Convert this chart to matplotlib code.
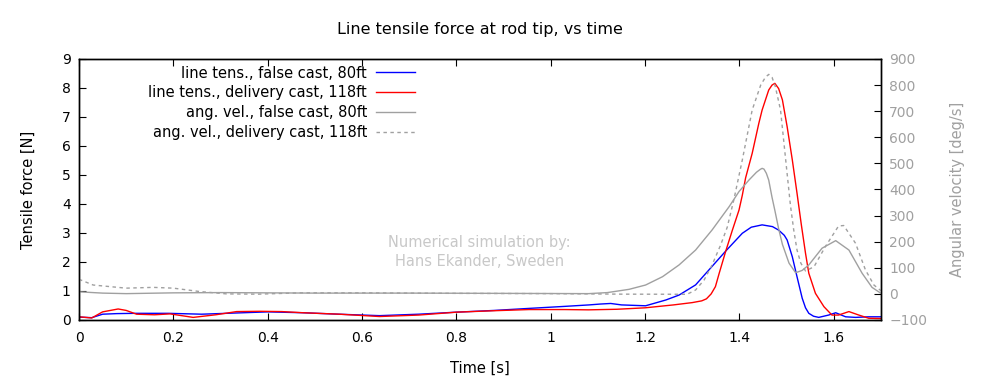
import matplotlib
matplotlib.use("Agg")
import matplotlib.pyplot as plt
from matplotlib.ticker import FuncFormatter

plt.rcParams['font.family'] = ['DejaVu Sans']

# ---- data ----
t_false_tens = [0.000, 0.027, 0.050, 0.080, 0.120, 0.190, 0.260, 0.330, 0.400, 0.475,
                0.550, 0.637, 0.720, 0.800, 0.880, 0.954, 1.030, 1.081, 1.105, 1.127,
                1.150, 1.201, 1.244, 1.272, 1.307, 1.342, 1.371, 1.406, 1.425, 1.448,
                1.470, 1.483, 1.495, 1.501, 1.512, 1.522, 1.533, 1.540, 1.547, 1.557,
                1.568, 1.589, 1.604, 1.625, 1.646, 1.674, 1.700]
f_false_tens = [0.10, 0.08, 0.20, 0.22, 0.23, 0.23, 0.20, 0.24, 0.28, 0.25,
                0.20, 0.15, 0.20, 0.27, 0.33, 0.40, 0.47, 0.52, 0.55, 0.57,
                0.52, 0.49, 0.69, 0.86, 1.21, 1.85, 2.38, 2.99, 3.20, 3.28,
                3.22, 3.10, 2.92, 2.76, 2.18, 1.49, 0.75, 0.42, 0.23, 0.13,
                0.09, 0.17, 0.25, 0.11, 0.09, 0.11, 0.11]

t_deliv_tens = [0.000, 0.027, 0.050, 0.083, 0.100, 0.122, 0.160, 0.193, 0.242, 0.290,
                0.334, 0.383, 0.430, 0.475, 0.552, 0.637, 0.720, 0.800, 0.880, 0.954,
                1.030, 1.080, 1.140, 1.200, 1.260, 1.300, 1.320, 1.330, 1.340, 1.349,
                1.357, 1.371, 1.385, 1.399, 1.406, 1.413, 1.427, 1.441, 1.448, 1.462,
                1.469, 1.475, 1.483, 1.491, 1.501, 1.512, 1.522, 1.531, 1.540, 1.547,
                1.561, 1.579, 1.596, 1.610, 1.632, 1.653, 1.674, 1.700]
f_deliv_tens = [0.11, 0.07, 0.28, 0.38, 0.33, 0.20, 0.18, 0.21, 0.09, 0.18,
                0.29, 0.30, 0.29, 0.25, 0.20, 0.12, 0.17, 0.27, 0.32, 0.36,
                0.36, 0.35, 0.37, 0.42, 0.52, 0.60, 0.66, 0.73, 0.90, 1.15,
                1.61, 2.38, 3.10, 3.79, 4.30, 4.90, 5.75, 6.78, 7.24, 7.93,
                8.10, 8.16, 7.98, 7.59, 6.67, 5.52, 4.37, 3.30, 2.30, 1.61,
                0.92, 0.46, 0.17, 0.17, 0.29, 0.17, 0.06, 0.05]

t_false_ang = [0.000, 0.050, 0.100, 0.200, 0.300, 0.500, 0.700, 0.900, 1.080, 1.120,
               1.166, 1.201, 1.237, 1.272, 1.307, 1.342, 1.378, 1.399, 1.420, 1.436,
               1.444, 1.448, 1.452, 1.457, 1.462, 1.469, 1.475, 1.483, 1.491, 1.505,
               1.519, 1.533, 1.547, 1.575, 1.604, 1.632, 1.660, 1.681, 1.700]
w_false_ang = [8, 3, 1, 4, 5, 3, 3, 2, 1, 5,
               17.5, 34, 66, 111, 168, 245, 334, 392, 436, 466,
               477, 481, 478, 462, 436, 370, 320, 250, 190, 118,
               81, 90, 111, 175, 204, 168, 79, 25, 2]

t_deliv_ang = [0.000, 0.030, 0.100, 0.157, 0.200, 0.256, 0.313, 0.380, 0.468, 0.600,
               0.800, 1.000, 1.150, 1.289, 1.307, 1.325, 1.342, 1.360, 1.374, 1.388,
               1.406, 1.427, 1.445, 1.455, 1.462, 1.469, 1.476, 1.487, 1.498, 1.508,
               1.515, 1.522, 1.530, 1.540, 1.558, 1.582, 1.610, 1.621, 1.646, 1.667,
               1.685, 1.700]
w_deliv_ang = [56, 34, 22, 25, 22, 9, 0, -1, 4, 4,
               2, 1, -1, -1.5, 15, 53, 111, 187, 255, 360,
               513, 705, 800, 830, 841, 830, 794, 705, 513, 340,
               245, 168, 118, 88, 104, 181, 260, 262, 194, 92,
               34, 12]

labels = ["line tens., false cast, 80ft", "line tens., delivery cast, 118ft",
          "ang. vel., false cast, 80ft", "ang. vel., delivery cast, 118ft"]
x_ticks = [0, 0.2, 0.4, 0.6, 0.8, 1.0, 1.2, 1.4, 1.6]
y_ticks = list(range(0, 10))
y2_ticks = list(range(-100, 1000, 100))

GRAY = "#a0a0a0"

fig = plt.figure(figsize=(10, 3.83), dpi=100)
ax = fig.add_axes([0.079, 0.1645, 0.802, 0.6815])
ax2 = ax.twinx()

l1, = ax.plot(t_false_tens, f_false_tens, color="blue", lw=1.0, label=labels[0])
l2, = ax.plot(t_deliv_tens, f_deliv_tens, color="red", lw=1.0, label=labels[1])
l3, = ax2.plot(t_false_ang, w_false_ang, color=GRAY, lw=1.0, label=labels[2])
l4, = ax2.plot(t_deliv_ang, w_deliv_ang, color=GRAY, lw=1.0, dashes=(2.5, 2.5), label=labels[3])

ax.set_xlim(0, 1.7)
ax.set_ylim(0, 9)
ax2.set_ylim(-100, 900)

fmt = FuncFormatter(lambda v, p: f"{v:g}")
ax.set_xticks(x_ticks)
ax.xaxis.set_major_formatter(fmt)
ax.set_yticks(y_ticks)
ax2.set_yticks(y2_ticks)

ax.tick_params(axis='x', direction='in', length=5, top=True, labelsize=10, pad=8)
ax.tick_params(axis='y', direction='in', length=5, labelsize=10, pad=6)
ax2.tick_params(axis='y', direction='in', length=5, labelsize=10, labelcolor=GRAY, pad=6)

for a in (ax, ax2):
    for s in a.spines.values():
        s.set_linewidth(1.0)
        s.set_color("black")

ax.set_xlabel("Time [s]", fontsize=10.5, labelpad=11)
ax.set_ylabel("Tensile force [N]", fontsize=10.5, labelpad=19)
ax2.set_ylabel("Angular velocity [deg/s]", fontsize=10.5, color=GRAY, labelpad=16)
ax.set_title("Line tensile force at rod tip, vs time", fontsize=11.5, pad=18)

ax.text(0.849, 2.34, "Numerical simulation by:\nHans Ekander, Sweden", color="#c8c8c8",
        fontsize=10.5, ha="center", va="center", linespacing=1.3)

leg = ax.legend(handles=[l1, l2, l3, l4], loc="upper right", bbox_to_anchor=(0.419, 0.975),
                markerfirst=False, frameon=False, fontsize=10.5, handlelength=2.7,
                handletextpad=0.6, labelspacing=0.33, borderaxespad=0, borderpad=0)

fig.savefig("out.png", dpi=100)
